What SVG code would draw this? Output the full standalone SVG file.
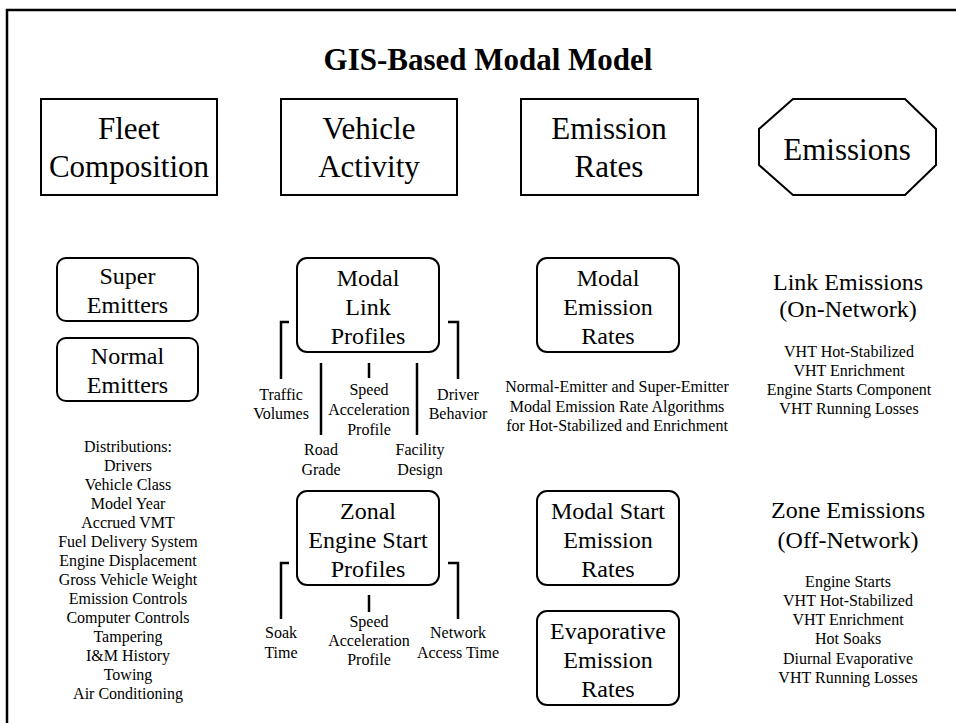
<svg xmlns="http://www.w3.org/2000/svg" width="956" height="723" viewBox="0 0 956 723">
<style>
text{font-family:"Liberation Serif","Times New Roman",serif;fill:#000;text-anchor:middle}
.t{font-size:31px;font-weight:bold}
.big{font-size:31px}
.mid{font-size:24px}
.sm{font-size:16px}
.box{fill:#fff;stroke:#000;stroke-width:2}
.conn{fill:none;stroke:#000;stroke-width:2.5}
</style>
<rect x="7" y="10" width="970" height="730" fill="#fff" stroke="#000" stroke-width="2.5"/>
<text id="title" class="t" x="488" y="70">GIS-Based Modal Model</text>
<g id="fleet"><rect class="box" x="41" y="99" width="176" height="96"/><text class="big" x="129" y="139">Fleet</text><text class="big" x="129" y="177">Composition</text></g>
<g id="activity"><rect class="box" x="281" y="99" width="176" height="96"/><text class="big" x="369" y="139">Vehicle</text><text class="big" x="369" y="177">Activity</text></g>
<g id="rates"><rect class="box" x="521" y="99" width="177" height="96"/><text class="big" x="609" y="139">Emission</text><text class="big" x="609" y="177">Rates</text></g>
<g id="emissions"><polygon class="box" points="793,99 905,99 936,129 936,165 905,195 793,195 759,165 759,129"/><text class="big" x="847" y="160">Emissions</text></g>
<g id="super"><rect class="box" x="57" y="258" width="141" height="63" rx="9"/><text class="mid" x="127.5" y="284">Super</text><text class="mid" x="127.5" y="313">Emitters</text></g>
<g id="normal"><rect class="box" x="57" y="338" width="141" height="63" rx="9"/><text class="mid" x="127.5" y="364">Normal</text><text class="mid" x="127.5" y="393">Emitters</text></g>
<g id="distributions" class="sm"><text class="sm" x="128" y="452">Distributions:</text><text class="sm" x="128" y="471">Drivers</text><text class="sm" x="128" y="490">Vehicle Class</text><text class="sm" x="128" y="509">Model Year</text><text class="sm" x="128" y="528">Accrued VMT</text><text class="sm" x="128" y="547">Fuel Delivery System</text><text class="sm" x="128" y="566">Engine Displacement</text><text class="sm" x="128" y="585">Gross Vehicle Weight</text><text class="sm" x="128" y="604">Emission Controls</text><text class="sm" x="128" y="623">Computer Controls</text><text class="sm" x="128" y="642">Tampering</text><text class="sm" x="128" y="661">I&amp;M History</text><text class="sm" x="128" y="680">Towing</text><text class="sm" x="128" y="699">Air Conditioning</text></g>
<g id="linkprofiles"><rect class="box" x="297" y="258" width="142" height="94" rx="10"/><text class="mid" x="368" y="286">Modal</text><text class="mid" x="368" y="315">Link</text><text class="mid" x="368" y="344">Profiles</text></g>
<g id="zonal"><rect class="box" x="297" y="491" width="142" height="94" rx="10"/><text class="mid" x="368" y="519">Zonal</text><text class="mid" x="368" y="548">Engine Start</text><text class="mid" x="368" y="577">Profiles</text></g>
<g id="modalrates"><rect class="box" x="537" y="258" width="142" height="94" rx="10"/><text class="mid" x="608" y="286">Modal</text><text class="mid" x="608" y="315">Emission</text><text class="mid" x="608" y="344">Rates</text></g>
<g id="modalstart"><rect class="box" x="537" y="491" width="142" height="94" rx="10"/><text class="mid" x="608" y="519">Modal Start</text><text class="mid" x="608" y="548">Emission</text><text class="mid" x="608" y="577">Rates</text></g>
<g id="evap"><rect class="box" x="537" y="611" width="142" height="94" rx="10"/><text class="mid" x="608" y="639">Evaporative</text><text class="mid" x="608" y="668">Emission</text><text class="mid" x="608" y="697">Rates</text></g>
<g id="algorithms"><text class="sm" x="617" y="392">Normal-Emitter and Super-Emitter</text><text class="sm" x="617" y="412">Modal Emission Rate Algorithms</text><text class="sm" x="617" y="431">for Hot-Stabilized and Enrichment</text></g>
<g id="linkemissions"><text class="mid" x="848" y="290">Link Emissions</text><text class="mid" x="848" y="317">(On-Network)</text><text class="sm" x="849" y="357">VHT Hot-Stabilized</text><text class="sm" x="849" y="376">VHT Enrichment</text><text class="sm" x="849" y="395">Engine Starts Component</text><text class="sm" x="849" y="414">VHT Running Losses</text></g>
<g id="zoneemissions"><text class="mid" x="848" y="518">Zone Emissions</text><text class="mid" x="848" y="548">(Off-Network)</text><text class="sm" x="848" y="587">Engine Starts</text><text class="sm" x="848" y="606">VHT Hot-Stabilized</text><text class="sm" x="848" y="625">VHT Enrichment</text><text class="sm" x="848" y="644">Hot Soaks</text><text class="sm" x="848" y="664">Diurnal Evaporative</text><text class="sm" x="848" y="683">VHT Running Losses</text></g>
<g id="labels"><text class="sm" x="281" y="400">Traffic</text><text class="sm" x="281" y="419">Volumes</text><text class="sm" x="369" y="395">Speed</text><text class="sm" x="369" y="415">Acceleration</text><text class="sm" x="369" y="435">Profile</text><text class="sm" x="458" y="400">Driver</text><text class="sm" x="458" y="419">Behavior</text><text class="sm" x="321" y="455">Road</text><text class="sm" x="321" y="475">Grade</text><text class="sm" x="420" y="455">Facility</text><text class="sm" x="420" y="475">Design</text><text class="sm" x="281" y="638">Soak</text><text class="sm" x="281" y="658">Time</text><text class="sm" x="369" y="627">Speed</text><text class="sm" x="369" y="646">Acceleration</text><text class="sm" x="369" y="665">Profile</text><text class="sm" x="458" y="638">Network</text><text class="sm" x="458" y="658">Access Time</text></g>
<g id="connectors" class="conn"><path d="M289 322H281V379"/><path d="M448 322H458V379"/><path d="M321 363V435"/><path d="M369 363V378"/><path d="M417 363V435"/><path d="M289 563H281V619"/><path d="M448 563H458V619"/><path d="M369 595V612"/></g>
</svg>
